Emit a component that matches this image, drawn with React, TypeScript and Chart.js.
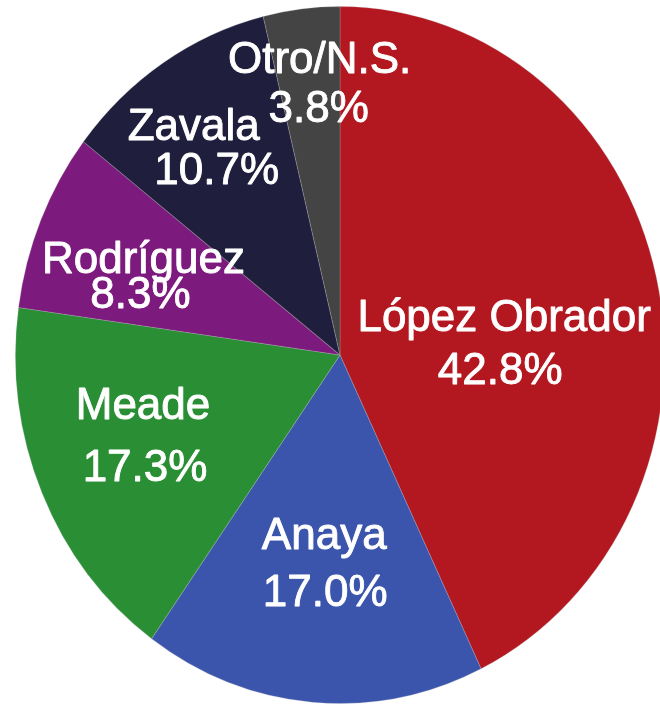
import React, { useEffect, useRef } from "react";
import { Chart, registerables } from "chart.js";

Chart.register(...registerables);

const candidates = ["López Obrador", "Anaya", "Meade", "Rodríguez", "Zavala", "Otro/N.S."];
const shares = [42.8, 17.0, 17.3, 8.3, 10.7, 3.8];
const sliceColors = ["#B3171F", "#3A55AB", "#2A8F34", "#7D1A7D", "#1F1F3D", "#444444"];

// label layout: offsets of each line's baseline centre from the slice's mid point
const nameOffsets = [[6, 15], [-2, 20], [-48, -5], [-47, -15], [-58, -69], [-1, -109]];
const pctOffsets = [[2, 68], [-1, 77], [-46, 57], [-50, 20], [-35, -25], [-2, -60]];

const K = 349 / 325; // vertical stretch of the pie

const ellipsePlugin = {
  id: "ellipse",
  beforeDatasetsDraw(chart: any) {
    const arc = chart.getDatasetMeta(0).data[0];
    const ctx = chart.ctx;
    ctx.save();
    ctx.translate(arc.x, arc.y);
    ctx.scale(1, K);
    ctx.translate(-arc.x, -arc.y);
  },
  afterDatasetsDraw(chart: any) {
    chart.ctx.restore();
  },
};

const labelPlugin = {
  id: "sliceLabels",
  afterDraw(chart: any) {
    const ctx = chart.ctx;
    const meta = chart.getDatasetMeta(0);
    ctx.save();
    ctx.fillStyle = "#ffffff";
    ctx.strokeStyle = "#ffffff";
    ctx.lineWidth = 0.9;
    ctx.lineJoin = "round";
    ctx.font = "44px 'Liberation Sans', Arial, sans-serif";
    ctx.textAlign = "center";
    ctx.textBaseline = "alphabetic";
    meta.data.forEach((arc: any, i: number) => {
      const p = arc.tooltipPosition(true);
      const cy = arc.y;
      const px = p.x;
      const py = cy + (p.y - cy) * K;
      const lines: [string, number[]][] = [
        [candidates[i], nameOffsets[i]],
        [shares[i].toFixed(1) + "%", pctOffsets[i]],
      ];
      lines.forEach(([txt, off]) => {
        ctx.fillText(txt, px + off[0], py + off[1]);
        ctx.strokeText(txt, px + off[0], py + off[1]);
      });
    });
    ctx.restore();
  },
};

export default function App() {
  const ref = useRef<HTMLCanvasElement>(null);
  useEffect(() => {
    if (!ref.current) return;
    const chart = new Chart(ref.current, {
      type: "pie",
      data: {
        labels: candidates,
        datasets: [
          {
            data: shares,
            backgroundColor: sliceColors,
            borderColor: "rgba(190,190,200,0.25)",
            borderWidth: 1,
            clip: false,
          } as any,
        ],
      },
      options: {
        animation: false,
        responsive: false,
        devicePixelRatio: 1,
        layout: { padding: { left: 15, right: 15, top: 30, bottom: 25 } },
        plugins: {
          legend: { display: false },
          tooltip: { enabled: false },
        },
        events: [],
      },
      plugins: [ellipsePlugin, labelPlugin],
    });
    return () => chart.destroy();
  }, []);
  return (
    <div style={{ position: "fixed", left: 0, top: 0, width: 660, height: 705, overflow: "hidden", background: "#ffffff" }}>
      <canvas ref={ref} width={680} height={705} style={{ display: "block" }} />
    </div>
  );
}
